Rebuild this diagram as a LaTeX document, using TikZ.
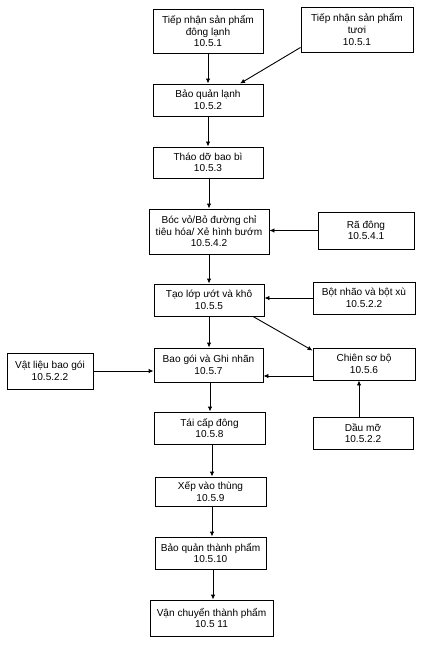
\documentclass[tikz,border=0pt]{standalone}
\usepackage{fontspec}
\setmainfont{Liberation Sans}
\usetikzlibrary{arrows.meta,calc}
\begin{document}
\begin{tikzpicture}[x=1pt,y=-1pt,
  box/.style={draw, line width=0.9pt, align=center, inner sep=0pt, font=\fontsize{10.1}{11.6}\selectfont},
  arr/.style={line width=0.9pt, -{Latex[length=5pt,width=4.5pt]}}]
\useasboundingbox[fill=white] (0,0) rectangle (425,652);
\node[box, minimum width=110, minimum height=44] (b1) at (208,31) {Tiếp nhận sản phẩm\\đông lạnh\\10.5.1};
\node[box, minimum width=112, minimum height=45] (b2) at (357,29.5) {Tiếp nhận sản phẩm\\tươi\\10.5.1};
\node[box, minimum width=110, minimum height=32] (b3) at (208,100) {Bảo quản lạnh\\10.5.2};
\node[box, minimum width=110, minimum height=31] (b4) at (208,162.5) {Tháo dỡ bao bì\\10.5.3};
\node[box, minimum width=120, minimum height=45] (b5) at (209,231.5) {Bóc vỏ/Bỏ đường chỉ\\tiêu hóa/ Xẻ hình bướm\\10.5.4.2};
\node[box, minimum width=96, minimum height=37] (b6) at (366,230.5) {Rã đông\\10.5.4.1};
\node[box, minimum width=110, minimum height=32] (b7) at (209,300) {Tạo lớp ướt và khô\\10.5.5};
\node[box, minimum width=102, minimum height=32] (b8) at (364,298) {Bột nhão và bột xù\\10.5.2.2};
\node[box, minimum width=109, minimum height=34] (b9) at (208.5,365) {Bao gói và Ghi nhãn\\10.5.7};
\node[box, minimum width=86, minimum height=36] (b10) at (50,371) {Vật liệu bao gói\\10.5.2.2};
\node[box, minimum width=102, minimum height=32] (b11) at (364,364) {Chiên sơ bộ\\10.5.6};
\node[box, minimum width=100, minimum height=32] (b12) at (363,433) {Dầu mỡ\\10.5.2.2};
\node[box, minimum width=111, minimum height=32] (b13) at (209.5,428) {Tái cấp đông\\10.5.8};
\node[box, minimum width=111, minimum height=29] (b14) at (210.5,491.5) {Xếp vào thùng\\10.5.9};
\node[box, minimum width=111, minimum height=32] (b15) at (210.5,553) {Bảo quản thành phẩm\\10.5.10};
\node[box, minimum width=123, minimum height=36] (b16) at (211.5,618) {Vận chuyển thành phẩm\\10.5 11};

\coordinate (c11) at ($(b11.west)+(0,12)$);
\draw[arr] (b1.south) -- (b1.south |- b3.north);
\draw[arr] ($(b2.south west)+(0,-5)$) -- ($(b3.north)+(32,0)$);
\draw[arr] (b3.south) -- (b3.south |- b4.north);
\draw[arr] ($(b4.south)+(1,0)$) -- ($(b4.south |- b5.north)+(1,0)$);
\draw[arr] (b5.south) -- (b5.south |- b7.north);
\draw[arr] (b6.west) -- (b6.west -| b5.east);
\draw[arr] (b7.south) -- (b7.south |- b9.north);
\draw[arr] (b8.west) -- (b8.west -| b7.east);
\draw[arr] ($(b7.south)+(44,0)$) -- ($(b11.north west)+(0,3)$);
\draw[arr] (b10.east) -- (b10.east -| b9.west);
\draw[arr] (c11) -- (c11 -| b9.east);
\draw[arr] ($(b12.north)+(-4,0)$) -- ($(b12.north |- b11.south)+(-4,0)$);
\draw[arr] ($(b9.south)+(1.5,0)$) -- ($(b9.south |- b13.north)+(1.5,0)$);
\draw[arr] ($(b13.south)+(2.5,0)$) -- ($(b13.south |- b14.north)+(2.5,0)$);
\draw[arr] ($(b14.south)+(1.5,0)$) -- ($(b14.south |- b15.north)+(1.5,0)$);
\draw[arr] ($(b15.south)+(2.5,0)$) -- ($(b15.south |- b16.north)+(2.5,0)$);
\end{tikzpicture}
\end{document}
